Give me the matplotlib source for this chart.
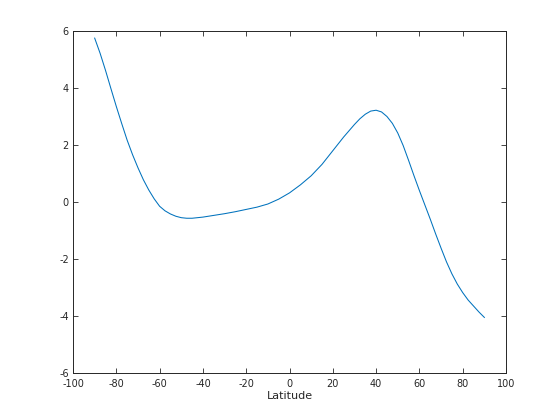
import matplotlib
matplotlib.use("Agg")
import matplotlib.pyplot as plt

latitude = [-90, -87.5, -85, -82.5, -80, -77.5, -75, -72.5, -70, -67.5, -65, -62.5,
            -60, -57.5, -55, -52.5, -50, -47.5, -45, -40, -35, -30, -25,
            -20, -15, -10, -5, 0, 5, 10, 15, 20, 25, 30, 32.5, 35, 37.5, 40, 42.5, 45,
            47.5, 50, 52.5, 55, 57.5, 60, 62.5, 65, 67.5, 70, 72.5, 75, 77.5, 80,
            82.5, 85, 87.5, 90]
values = [5.75, 5.22, 4.62, 3.98, 3.35, 2.75, 2.17, 1.66, 1.2, 0.78, 0.42, 0.11,
          -0.15, -0.31, -0.42, -0.50, -0.55, -0.57, -0.57, -0.53,
          -0.47, -0.41, -0.34, -0.26, -0.18, -0.07, 0.10, 0.32, 0.60, 0.92, 1.32,
          1.80, 2.28, 2.72, 2.92, 3.08, 3.19, 3.22, 3.16, 3.00, 2.76, 2.42, 1.98,
          1.46, 0.92, 0.40, -0.10, -0.60, -1.12, -1.62, -2.10, -2.52, -2.88, -3.18,
          -3.44, -3.65, -3.86, -4.05]
xticks = list(range(-100, 101, 20))
yticks = list(range(-6, 7, 2))

plt.rcParams['font.family'] = ['DejaVu Sans']
plt.rcParams['axes.unicode_minus'] = False
fig = plt.figure(figsize=(5.6, 4.2), dpi=100)
ax = fig.add_axes([0.1304, 0.1119, 0.7732, 0.8143])
ax.plot(latitude, values, color='#0072BD', linewidth=0.75)
ax.set_xlim(-100, 100)
ax.set_ylim(-6, 6)
ax.set_xticks(xticks)
ax.set_yticks(yticks)
ax.tick_params(direction='in', length=3.5, width=0.6, top=True, right=True,
               labelsize=7, colors='#262626')
ax.tick_params(axis='x', pad=4)
ax.tick_params(axis='y', pad=3)
for s in ax.spines.values():
    s.set_linewidth(0.7)
    s.set_color('#262626')
ax.set_xlabel('Latitude', fontsize=8, color='#262626', labelpad=2)
fig.savefig('out.png', dpi=100)
